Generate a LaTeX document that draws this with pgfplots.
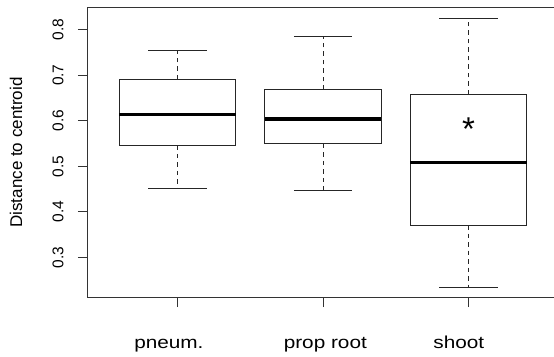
\documentclass[border=0pt]{standalone}
\usepackage{pgfplots}
\pgfplotsset{compat=1.18}
\usepgfplotslibrary{statistics}
\usepackage{graphicx}
\usepackage{fontspec}
\setmainfont{Liberation Sans}
\newcommand{\xl}[2]{\makebox[0pt]{\hspace*{#1}\scalebox{1.2}[1]{#2}}}
\begin{document}
\begin{tikzpicture}
\begin{axis}[
  at={(0pt,0pt)}, anchor=south west,
  scale only axis,
  width=471.4pt, height=290.4pt,
  xmin=0.38, xmax=3.62,
  ymin=0.2115, ymax=0.849,
  axis x line*=box, axis y line*=left,
  axis line style={black!80, line width=1pt, -},
  xtick={1,2,3},
  xticklabels={\xl{-17.2pt}{pneum.}, \xl{4.6pt}{prop root}, \xl{-19.4pt}{shoot}},
  ytick={0.3,0.4,0.5,0.6,0.7,0.8},
  yticklabels={0.3,0.4,0.5,0.6,0.7,0.8},
  xtick pos=bottom, ytick pos=left,
  tick align=outside,
  major tick length=9.5pt,
  tick style={black!80, line width=1pt},
  /pgf/number format/assume math mode=true,
  yticklabel style={rotate=90, anchor=south, inner sep=0pt, font=\fontsize{15.5}{18}\selectfont},
  yticklabel shift=14pt,
  xticklabel style={anchor=base, inner sep=0pt, font=\fontsize{17.3}{20}\selectfont},
  xticklabel shift=41pt,
  every axis y label/.style={at={(axis description cs:-0.138,0.5)}, rotate=90, anchor=base, inner sep=0pt, font=\fontsize{17}{20}\selectfont},
  ylabel={Distance to centroid},
  boxplot/draw direction=y,
  boxplot/box extend=0.8,
  boxplot/whisker extend=0.4,
  boxplot/draw/whisker/.code 2 args={%
    \draw[black!85, line width=1pt, dash pattern=on 4.5pt off 4pt] (boxplot cs:#1) -- (boxplot cs:#2);
    \draw[black!85, line width=1pt] (boxplot whisker cs:#1,0) -- (boxplot whisker cs:#1,1);
    \draw[black!85, line width=1pt] (boxplot whisker cs:#2,0) -- (boxplot whisker cs:#2,1);
  },
  boxplot/every box/.style={draw=black!85, fill=white, line width=1pt},
  boxplot/every median/.style={draw=black, line width=3.2pt},
]
\addplot+[boxplot prepared={draw position=1, lower whisker=0.4515, lower quartile=0.5459, median=0.6133, upper quartile=0.6909, upper whisker=0.7532}, black, mark=none] coordinates {};
\addplot+[boxplot prepared={draw position=2, lower whisker=0.4464, lower quartile=0.5490, median=0.6039, upper quartile=0.6675, upper whisker=0.7846}, black, mark=none] coordinates {};
\addplot+[boxplot prepared={draw position=3, lower whisker=0.2349, lower quartile=0.3710, median=0.5079, upper quartile=0.6579, upper whisker=0.8248}, black, mark=none] coordinates {};
\node[inner sep=0pt, font=\fontsize{33}{33}\selectfont] at (axis cs:3,0.582) {*};
\end{axis}
\pgfresetboundingbox
\path (-87.3pt,-58.3pt) rectangle (466.7pt,297.7pt);
\end{tikzpicture}
\end{document}
